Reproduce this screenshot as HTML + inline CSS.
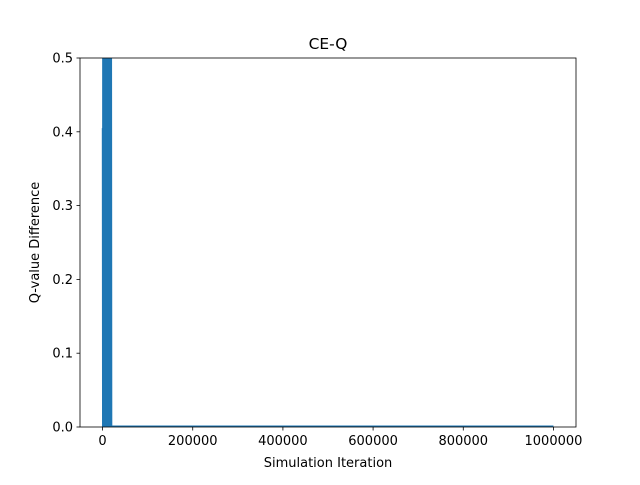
<!DOCTYPE html>
<html><head><meta charset="utf-8"><style>
body{margin:0;background:#fff}
svg text{font-family:"DejaVu Sans","Liberation Sans",sans-serif;fill:#000}
</style></head><body>
<svg id="chart" width="640" height="480" xmlns="http://www.w3.org/2000/svg">
<rect width="640" height="480" fill="#fff"/>
<text x="328" y="49" font-size="15.4" text-anchor="middle">CE-Q</text>
<defs><clipPath id="clip"><rect x="80" y="58" width="496" height="369"/></clipPath></defs>
<g id="marks" clip-path="url(#clip)"></g>
<g id="axes"></g>
<rect x="80" y="58" width="496" height="369" fill="none" stroke="#000" stroke-width="0.8"/>
<text x="328" y="467" font-size="13" text-anchor="middle">Simulation Iteration</text>
<text transform="translate(39,242.5) rotate(-90)" font-size="13" text-anchor="middle">Q-value Difference</text>
</svg>
<script>
const iterations = [0,500,1000,1500,2000,2500,3000,3500,4000,4500,5000,5500,6000,6500,7000,7500,8000,8500,9000,9500,10000,10500,11000,11500,12000,12500,13000,13500,14000,14500,15000,15500,16000,16500,17000,17500,18000,18500,19000,20000,1000000];
const qdiff = [0.405,0,0.9,0,0.9,0,0.9,0,0.9,0,0.9,0,0.9,0,0.9,0,0.9,0,0.9,0,0.9,0,0.9,0,0.9,0,0.9,0,0.9,0,0.9,0,0.9,0,0.9,0,0.9,0,0.9,0.001,0.001];
const xTicks = [0,200000,400000,600000,800000,1000000];
const xTickLabels = ["0","200000","400000","600000","800000","1000000"];
const yTicks = [0,0.1,0.2,0.3,0.4,0.5];
const yTickLabels = ["0.0","0.1","0.2","0.3","0.4","0.5"];

const NS="http://www.w3.org/2000/svg";
const X0=80,X1=576,Y0=427,Y1=58,xmin=-50000,xmax=1050000,ymin=0,ymax=0.5;
function xs(v){return X0+(v-xmin)/(xmax-xmin)*(X1-X0);}
function ys(v){return Y0-(v-ymin)/(ymax-ymin)*(Y0-Y1);}
const marks=document.getElementById('marks'),axes=document.getElementById('axes');
const line=document.createElementNS(NS,'polyline');


line.setAttribute('points',iterations.map((v,i)=>xs(v)+','+ys(qdiff[i])).join(' '));
line.setAttribute('fill','none');line.setAttribute('stroke','#1f77b4');
line.setAttribute('stroke-width','1.5');line.setAttribute('stroke-linejoin','miter');
marks.appendChild(line);
xTicks.forEach((v,i)=>{
  const t=document.createElementNS(NS,'line');
  
  
  t.setAttribute('x1',xs(v));t.setAttribute('x2',xs(v));t.setAttribute('y1',Y0);t.setAttribute('y2',Y0+3.5);
  t.setAttribute('stroke','#000');t.setAttribute('stroke-width','0.8');axes.appendChild(t);
  const l=document.createElementNS(NS,'text');
  
  
  l.setAttribute('x',xs(v));l.setAttribute('y',Y0+18);l.setAttribute('font-size','13');l.setAttribute('text-anchor','middle');
  l.textContent=xTickLabels[i];axes.appendChild(l);
});
yTicks.forEach((v,i)=>{
  const t=document.createElementNS(NS,'line');
  
  
  t.setAttribute('x1',X0-3.5);t.setAttribute('x2',X0);t.setAttribute('y1',ys(v));t.setAttribute('y2',ys(v));
  t.setAttribute('stroke','#000');t.setAttribute('stroke-width','0.8');axes.appendChild(t);
  const l=document.createElementNS(NS,'text');
  
  
  l.setAttribute('x',X0-7);l.setAttribute('y',ys(v)+4.5);l.setAttribute('font-size','13');l.setAttribute('text-anchor','end');
  l.textContent=yTickLabels[i];axes.appendChild(l);
});
</script>
</body></html>
